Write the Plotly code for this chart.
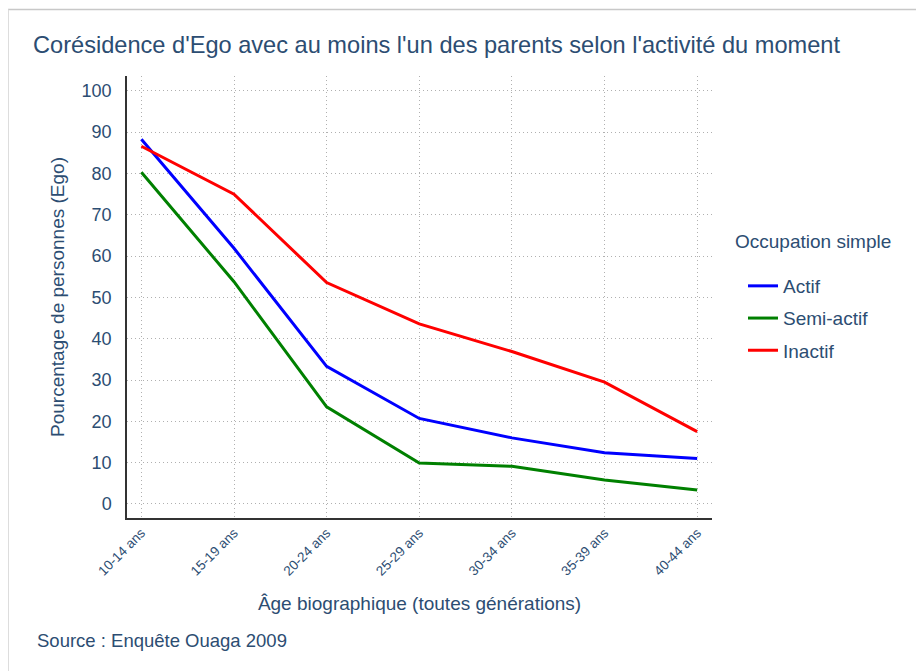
import plotly.graph_objects as go

categories = ["10-14 ans", "15-19 ans", "20-24 ans", "25-29 ans", "30-34 ans", "35-39 ans", "40-44 ans"]
actif = [88.3, 61.9, 33.3, 20.7, 16.0, 12.4, 11.0]
semi_actif = [80.3, 53.8, 23.5, 9.9, 9.1, 5.8, 3.4]
inactif = [86.6, 75.0, 53.6, 43.6, 36.9, 29.5, 17.5]
series_names = ["Actif", "Semi-actif", "Inactif"]
series_colors = ["#0000ff", "#008000", "#ff0000"]
y_ticks = [0, 10, 20, 30, 40, 50, 60, 70, 80, 90, 100]

TXT = "#2c4d72"
FONT = "Liberation Sans, Arial, Helvetica, sans-serif"

OFF = 8  # page body margin
W, H = 924 - OFF, 671 - OFF
L, T = 127 - OFF, 76 - OFF
R, B = W - (712 - OFF), H - (518 - OFF)
pw, ph = W - L - R, H - T - B


def px(x):  # reference page x -> paper
    return (x - OFF - L) / pw


def py(y):  # reference page y -> paper
    return (H - B - (y - OFF)) / ph


fig = go.Figure()
for name, vals, col in zip(series_names, [actif, semi_actif, inactif], series_colors):
    fig.add_trace(go.Scatter(x=list(range(len(categories))), y=vals, mode="lines", name=name,
                             legendgroup=name, line=dict(color=col, width=3)))

GRID = dict(showgrid=True, gridcolor="#b0b0b0", griddash="1px,3px", gridwidth=1,
            showline=True, linecolor="#333333", linewidth=1.5, zeroline=False, ticks="")

fig.update_layout(
    width=W, height=H,
    margin=dict(l=L, r=R, t=T, b=B),
    paper_bgcolor="white", plot_bgcolor="white",
    font=dict(family=FONT, color=TXT, size=19),
    title=dict(text="Corésidence d'Ego avec au moins l'un des parents selon l'activité du moment",
               x=(33 - OFF) / W, xanchor="left", xref="container",
               y=1 - (45 - OFF) / H, yanchor="middle", yref="container",
               font=dict(size=23.6, color=TXT, family=FONT)),
    showlegend=True,
    legend=dict(x=px(743), xanchor="left", y=py(267), yanchor="top",
                font=dict(size=19, color=TXT), bgcolor="rgba(0,0,0,0)",
                tracegroupgap=4.5, itemwidth=30),
    xaxis=dict(range=[-0.155, 6.16], tickmode="array", tickvals=list(range(len(categories))),
               ticktext=categories, tickangle=-45, tickfont=dict(size=13.5, color=TXT),
               title=dict(text="Âge biographique (toutes générations)", font=dict(size=19, color=TXT),
                          standoff=19),
               **GRID),
    yaxis=dict(range=[-3.4, 103.6], tickmode="array", tickvals=y_ticks,
               tickfont=dict(size=18, color=TXT), ticklabelstandoff=10,
               title=dict(text="Pourcentage de personnes (Ego)", font=dict(size=19, color=TXT),
                          standoff=12),
               **GRID),
)

fig.add_annotation(text="Occupation simple", xref="paper", yref="paper",
                   x=px(733), y=py(241), xanchor="left", yanchor="middle", showarrow=False,
                   font=dict(size=19, color=TXT, family=FONT))

fig.add_annotation(text="Source : Enquête Ouaga 2009", xref="paper", yref="paper",
                   x=px(35), y=py(640), xanchor="left", yanchor="middle", showarrow=False,
                   font=dict(size=18.5, color=TXT, family=FONT))

# frame lines (top and left) of the page
fig.add_shape(type="line", xref="paper", yref="paper", x0=px(8), x1=px(940), y0=py(9.5), y1=py(9.5),
              line=dict(color="#c8c8c8", width=1.5))
fig.add_shape(type="line", xref="paper", yref="paper", x0=px(8.5), x1=px(8.5), y0=py(9.5), y1=py(700),
              line=dict(color="#dddddd", width=1))

fig.write_html("out.html")
